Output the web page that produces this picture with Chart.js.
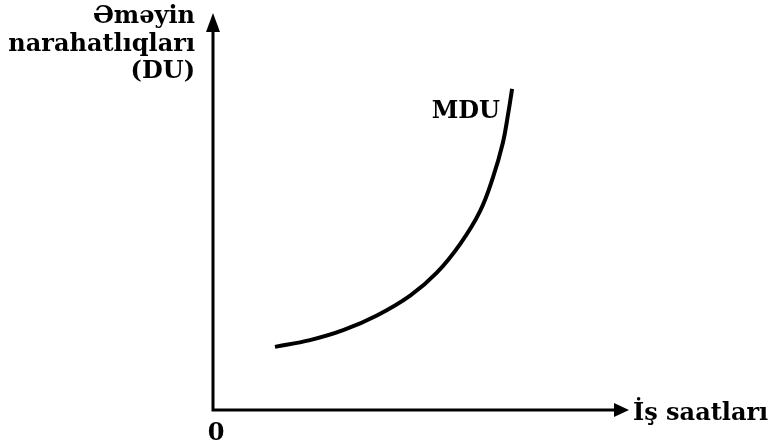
<!DOCTYPE html>
<html>
<head>
<meta charset="utf-8">
<script src="https://cdn.jsdelivr.net/npm/chart.js@4/dist/chart.umd.min.js"></script>
<style>
  html, body { margin: 0; padding: 0; background: #fff; }
  #wrap { width: 777px; height: 446px; }
</style>
</head>
<body>
<div id="wrap"><canvas id="myChart"></canvas></div>
<script>
  // MDU curve (x: hours of work, y: disutility), 0..100 scale
  const hours = [14.9, 23.3, 31.3, 39.4, 47.4, 53.8, 59.4, 64.2, 67.3, 69.7, 70.9, 71.9];
  const mdu = [15.9, 17.6, 20.1, 23.8, 28.8, 34.6, 41.8, 50.1, 58.6, 67.4, 74.3, 80.9];
  const yTitle = ["Əməyin", "narahatlıqları", "(DU)"];
  const xTitle = "İş saatları";
  const curveLabel = "MDU";

  const font = "bold 24px 'DejaVu Serif', serif";

  const axesPlugin = {
    id: "axes",
    afterDatasetsDraw(chart) {
      const { ctx, scales: { x, y } } = chart;
      const x0 = x.getPixelForValue(0), x1 = x.getPixelForValue(100);
      const y0 = y.getPixelForValue(0), y1 = y.getPixelForValue(100);
      ctx.save();
      ctx.strokeStyle = "#000";
      ctx.fillStyle = "#000";
      ctx.lineWidth = 3;
      ctx.beginPath();
      ctx.moveTo(x0, y0 + 1.5);
      ctx.lineTo(x0, y1 + 14);
      ctx.moveTo(x0 - 1.5, y0);
      ctx.lineTo(x1 - 12, y0);
      ctx.stroke();
      // arrow heads
      ctx.beginPath();
      ctx.moveTo(x0, y1);
      ctx.lineTo(x0 - 7, y1 + 19);
      ctx.lineTo(x0 + 7, y1 + 19);
      ctx.closePath();
      ctx.fill();
      ctx.beginPath();
      ctx.moveTo(x1, y0);
      ctx.lineTo(x1 - 15, y0 - 7);
      ctx.lineTo(x1 - 15, y0 + 7);
      ctx.closePath();
      ctx.fill();

      ctx.font = font;
      ctx.textBaseline = "alphabetic";
      ctx.textAlign = "right";
      yTitle.forEach((t, i) => ctx.fillText(t, x0 - 18, y1 + 10 + i * 27.5));
      ctx.textAlign = "left";
      ctx.fillText(xTitle, x1 + 4, y0 + 10);
      ctx.textAlign = "center";
      ctx.fillText("0", x0 + 3, y0 + 30);
      ctx.textAlign = "right";
      ctx.fillText(curveLabel, x.getPixelForValue(69), y.getPixelForValue(73.6));
      ctx.restore();
    },
  };

  new Chart(document.getElementById("myChart"), {
    type: "line",
    data: {
      datasets: [
        {
          data: hours.map((h, i) => ({ x: h, y: mdu[i] })),
          borderColor: "#000",
          borderWidth: 4,
          pointRadius: 0,
          tension: 0.4,
          fill: false,
        },
      ],
    },
    options: {
      responsive: true,
      maintainAspectRatio: false,
      animation: false,
      layout: { padding: { left: 213, right: 148, top: 13, bottom: 36 } },
      scales: {
        x: { type: "linear", min: 0, max: 100, display: false },
        y: { type: "linear", min: 0, max: 100, display: false },
      },
      plugins: {
        legend: { display: false },
        tooltip: { enabled: false },
      },
    },
    plugins: [axesPlugin],
  });
</script>
</body>
</html>
